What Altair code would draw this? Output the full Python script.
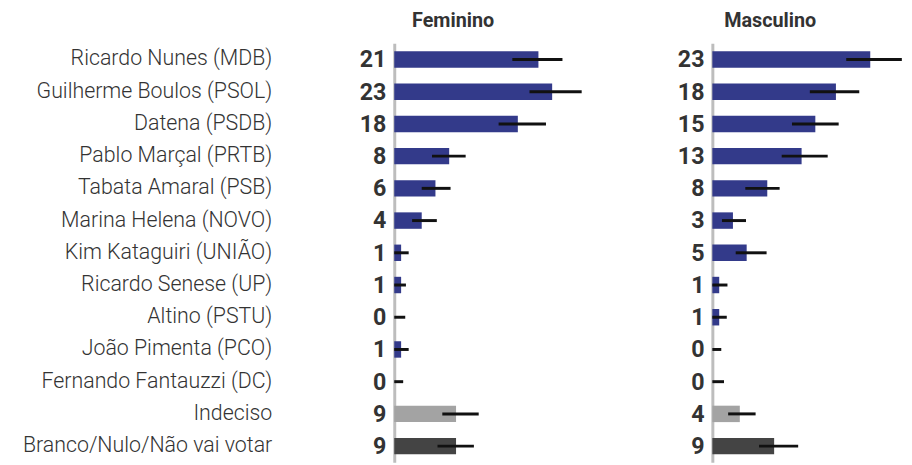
import altair as alt
import pandas as pd

candidatos = [
    "Ricardo Nunes (MDB)", "Guilherme Boulos (PSOL)", "Datena (PSDB)",
    "Pablo Marçal (PRTB)", "Tabata Amaral (PSB)", "Marina Helena (NOVO)",
    "Kim Kataguiri (UNIÃO)", "Ricardo Senese (UP)", "Altino (PSTU)",
    "João Pimenta (PCO)", "Fernando Fantauzzi (DC)", "Indeciso",
    "Branco/Nulo/Não vai votar",
]
tipo = ["cand"] * 11 + ["indeciso", "branco"]

fem = [21, 23, 18, 8, 6, 4, 1, 1, 0, 1, 0, 9, 9]
fem_lo = [17.2, 19.7, 15.2, 5.5, 4.0, 2.6, 0, 0, 0, 0, 0, 7.0, 6.3]
fem_hi = [24.5, 27.3, 22.1, 10.4, 8.2, 6.2, 2.1, 1.7, 1.6, 2.1, 1.3, 12.3, 11.6]

masc = [23, 18, 15, 13, 8, 3, 5, 1, 1, 0, 0, 4, 9]
masc_lo = [19.5, 14.2, 11.6, 10.1, 4.8, 1.4, 3.4, 0, 0, 0, 0, 2.3, 6.8]
masc_hi = [27.6, 21.4, 18.4, 16.8, 9.8, 4.9, 7.9, 2.2, 2.1, 1.3, 1.7, 6.3, 12.5]

FONT = "Roboto"
TXT = "#333333"


def panel(vals, lo, hi, title, show_names, title_dx):
    df = pd.DataFrame({
        "cand": candidatos, "tipo": tipo, "v": vals, "lo": lo, "hi": hi,
    })
    y = alt.Y(
        "cand:N", sort=candidatos, title=None,
        scale=alt.Scale(paddingInner=0.49, paddingOuter=0.245),
        axis=alt.Axis(
            labels=show_names, ticks=False, tickSize=0, domain=True,
            domainColor="#bdbdbd", domainWidth=3, grid=False,
            labelPadding=124, labelFont=FONT, labelFontSize=21.6,
            labelFontWeight=300, labelColor=TXT, labelLimit=400,
        ),
    )
    xs = alt.Scale(domain=[0, 27.34], nice=False, zero=True)
    base = alt.Chart(df)
    bars = base.mark_bar().encode(
        y=y,
        x=alt.X("v:Q", scale=xs, axis=None),
        color=alt.Color(
            "tipo:N", legend=None,
            scale=alt.Scale(domain=["cand", "indeciso", "branco"],
                            range=["#333a8a", "#a3a3a3", "#444444"]),
        ),
    )
    err = base.mark_rule(color="#111111", strokeWidth=3).encode(
        y=y, x=alt.X("lo:Q", scale=xs), x2="hi:Q",
    )
    nums = base.mark_text(
        align="right", baseline="middle", dx=-8, dy=1, font=FONT,
        fontSize=23.5, fontWeight="bold", color=TXT,
    ).encode(y=y, x=alt.value(0), text="v:Q")
    return alt.layer(bars, err, nums).properties(
        width=190, height=424,
        title=alt.TitleParams(
            title, anchor="start", frame="group", dx=title_dx,
            font=FONT, fontSize=20, fontWeight="bold", color=TXT, offset=13,
        ),
    )


f_panel = panel(fem, fem_lo, fem_hi, "Feminino", True, 18)
m_panel = panel(masc, masc_lo, masc_hi, "Masculino", False, 12)

chart = alt.hconcat(f_panel, m_panel, spacing=132, bounds="flush").properties(
    padding={"left": 14, "top": 0, "right": 0, "bottom": 0},
    background="white",
).configure_view(strokeWidth=0, stroke=None)

chart.save("out.html", embed_options={"renderer": "svg", "actions": False})
